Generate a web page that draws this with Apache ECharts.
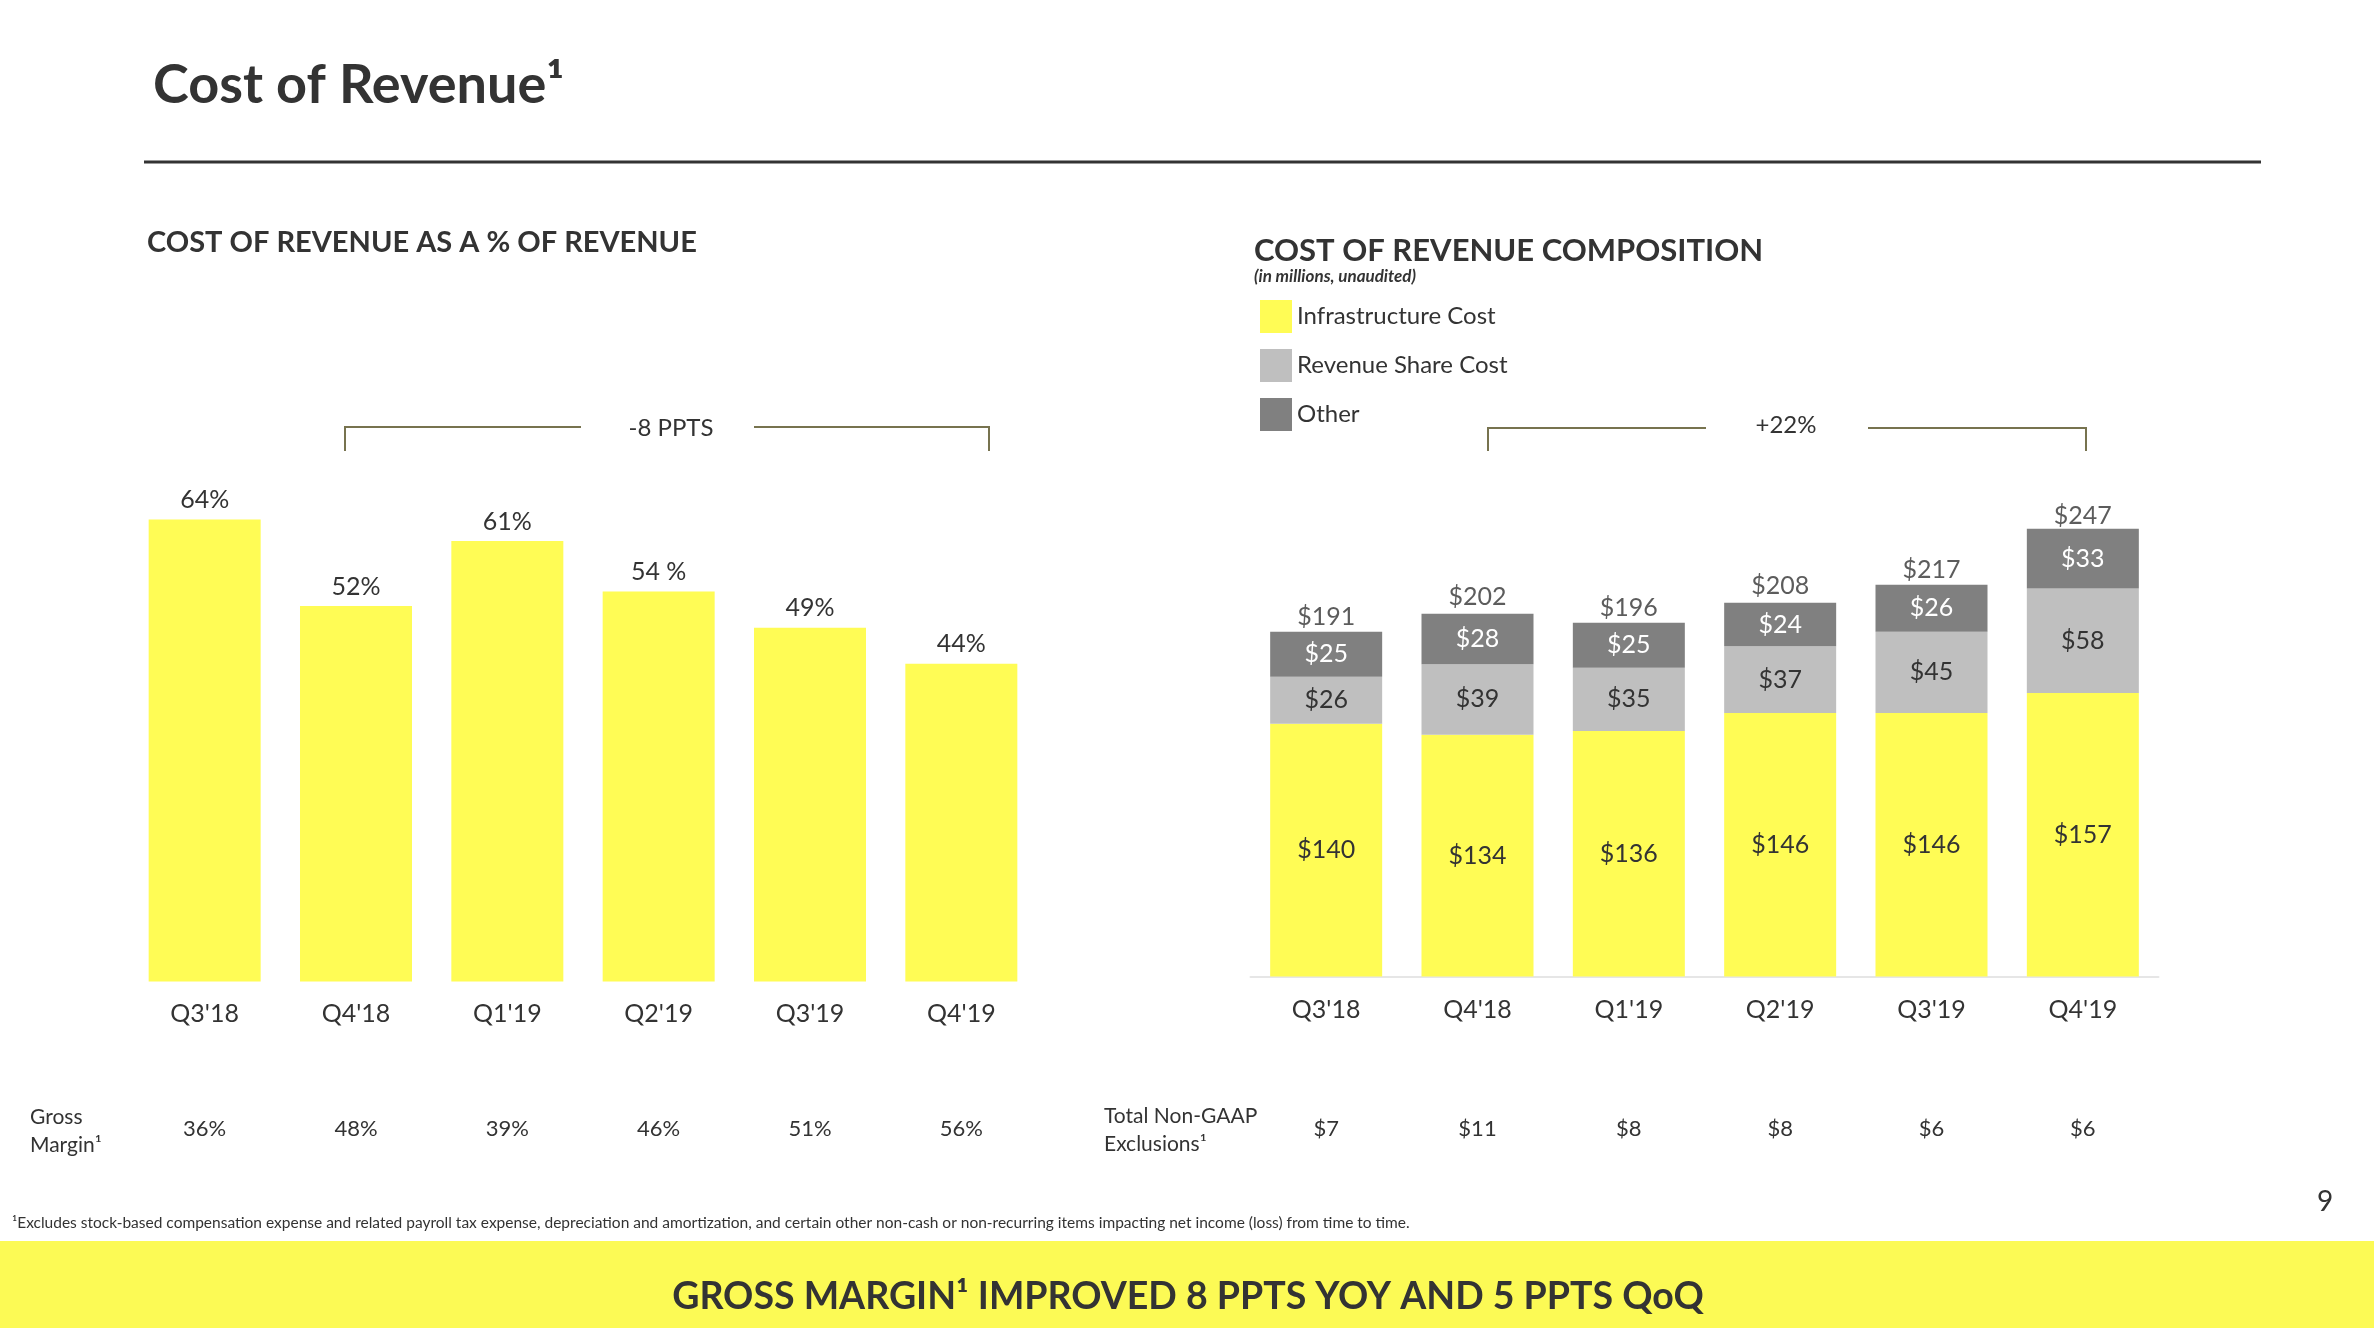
<!DOCTYPE html>
<html>
<head>
<meta charset="utf-8">
<title>Cost of Revenue</title>
<script src="https://cdn.jsdelivr.net/npm/echarts@6.0.0/dist/echarts.min.js"></script>
<style>
  html, body { margin: 0; padding: 0; background: #fff; }
  #main { width: 2374px; height: 1328px; }
</style>
</head>
<body>
<div id="main"></div>
<script>
var quarters = ["Q3'18", "Q4'18", "Q1'19", "Q2'19", "Q3'19", "Q4'19"];
// cost of revenue as % of revenue
var costPct = [64, 52, 61, 54, 49, 44];
var costPctLabels = ['64%', '52%', '61%', '54 %', '49%', '44%'];
var grossMargin = ['36%', '48%', '39%', '46%', '51%', '56%'];
// composition, $ millions
var infraCost = [140, 134, 136, 146, 146, 157];
var revShareCost = [26, 39, 35, 37, 45, 58];
var otherCost = [25, 28, 25, 24, 26, 33];
var totalCost = [191, 202, 196, 208, 217, 247];
var nonGaapExcl = ['$7', '$11', '$8', '$8', '$6', '$6'];

var FONT = 'Lato, "Noto Sans", sans-serif';
var TXT = '#333333';
var YELLOW = '#FFFC55';
var BRACKET = '#77734f';

function money(p) { return '$' + p.value; }

var chart = echarts.init(document.getElementById('main'));

var option = {
  backgroundColor: '#ffffff',
  textStyle: { fontFamily: FONT, color: TXT },
  animation: false,
  legend: {
    orient: 'vertical',
    left: 1255,
    top: 295,
    itemWidth: 32,
    itemHeight: 33,
    itemGap: 16,
    icon: 'rect',
    selectedMode: false,
    data: ['Infrastructure Cost', 'Revenue Share Cost', 'Other'],
    textStyle: { fontFamily: FONT, fontSize: 24, color: TXT }
  },
  grid: [
    { left: 129, width: 908, top: 259.5, bottom: 346.5 },
    { left: 1250.5, width: 908, top: 435, bottom: 351.5 }
  ],
  xAxis: [
    {
      gridIndex: 0, type: 'category', data: quarters,
      axisLine: { show: false }, axisTick: { show: false },
      axisLabel: { margin: 20, fontSize: 25, color: TXT, fontFamily: FONT }
    },
    {
      gridIndex: 0, type: 'category', data: quarters, position: 'bottom', offset: 116,
      axisLine: { show: false }, axisTick: { show: false },
      axisLabel: {
        margin: 20, fontSize: 22, color: TXT, fontFamily: FONT,
        formatter: function (v, i) { return grossMargin[i]; }
      }
    },
    {
      gridIndex: 1, type: 'category', data: quarters,
      axisLine: { show: true, lineStyle: { color: '#e6e6e6', width: 2 } }, axisTick: { show: false },
      axisLabel: { margin: 21, fontSize: 25, color: TXT, fontFamily: FONT }
    },
    {
      gridIndex: 1, type: 'category', data: quarters, position: 'bottom', offset: 121,
      axisLine: { show: false }, axisTick: { show: false },
      axisLabel: {
        margin: 20, fontSize: 22, color: TXT, fontFamily: FONT,
        formatter: function (v, i) { return nonGaapExcl[i]; }
      }
    }
  ],
  yAxis: [
    { gridIndex: 0, type: 'value', min: 0, max: 100, show: false },
    { gridIndex: 1, type: 'value', min: 0, max: 300, show: false }
  ],
  series: [
    {
      name: 'Cost % of Revenue', type: 'bar', xAxisIndex: 0, yAxisIndex: 0,
      data: costPct, barWidth: 112,
      itemStyle: { color: YELLOW },
      label: {
        show: true, position: 'top', distance: 7, fontSize: 25, color: TXT, fontFamily: FONT,
        formatter: function (p) { return costPctLabels[p.dataIndex]; }
      }
    },
    {
      name: 'Infrastructure Cost', type: 'bar', xAxisIndex: 2, yAxisIndex: 1, stack: 'cost',
      data: infraCost, barWidth: 112,
      itemStyle: { color: YELLOW },
      label: { show: true, position: 'inside', fontSize: 25, color: TXT, fontFamily: FONT, formatter: money }
    },
    {
      name: 'Revenue Share Cost', type: 'bar', xAxisIndex: 2, yAxisIndex: 1, stack: 'cost',
      data: revShareCost, barWidth: 112,
      itemStyle: { color: '#bfbfbf' },
      label: { show: true, position: 'inside', fontSize: 25, color: TXT, fontFamily: FONT, formatter: money }
    },
    {
      name: 'Other', type: 'bar', xAxisIndex: 2, yAxisIndex: 1, stack: 'cost',
      data: otherCost, barWidth: 112,
      itemStyle: { color: '#808080' },
      label: { show: true, position: 'inside', fontSize: 25, color: '#ffffff', fontFamily: FONT, formatter: money }
    },
    {
      name: 'Total', type: 'scatter', xAxisIndex: 2, yAxisIndex: 1,
      data: totalCost, symbolSize: 1, silent: true,
      itemStyle: { color: 'rgba(0,0,0,0)' },
      label: { show: true, position: 'top', distance: 2, fontSize: 25, color: TXT, fontFamily: FONT, formatter: money }
    }
  ],
  graphic: [
    {
      type: 'text', left: 153, top: 59,
      style: { text: 'Cost of Revenue\u00b9', font: 'bold 54px ' + FONT, fill: TXT }
    },
    {
      type: 'line', shape: { x1: 144, y1: 162, x2: 2261, y2: 162 },
      style: { stroke: '#333333', lineWidth: 3 }
    },
    {
      type: 'text', x: 147, y: 243,
      style: { text: 'COST OF REVENUE AS A % OF REVENUE', font: 'bold 29px ' + FONT, fill: TXT, verticalAlign: 'middle' }
    },
    {
      type: 'text', x: 1254, y: 251,
      style: { text: 'COST OF REVENUE COMPOSITION', font: 'bold 31px ' + FONT, fill: TXT, verticalAlign: 'middle' }
    },
    {
      type: 'text', x: 1254, y: 277,
      style: { text: '(in millions, unaudited)', font: 'italic bold 17px ' + FONT, fill: TXT, verticalAlign: 'middle' }
    },
    // -8 PPTS bracket
    {
      type: 'polyline', shape: { points: [[345, 451], [345, 427], [581, 427]] },
      style: { stroke: BRACKET, lineWidth: 2, fill: null }
    },
    {
      type: 'polyline', shape: { points: [[754, 427], [989, 427], [989, 451]] },
      style: { stroke: BRACKET, lineWidth: 2, fill: null }
    },
    {
      type: 'text', x: 671, y: 428,
      style: { text: '-8 PPTS', font: '24px ' + FONT, fill: TXT, align: 'center', verticalAlign: 'middle' }
    },
    // +22% bracket
    {
      type: 'polyline', shape: { points: [[1488, 451], [1488, 428], [1706, 428]] },
      style: { stroke: BRACKET, lineWidth: 2, fill: null }
    },
    {
      type: 'polyline', shape: { points: [[1868, 428], [2086, 428], [2086, 451]] },
      style: { stroke: BRACKET, lineWidth: 2, fill: null }
    },
    {
      type: 'text', x: 1786, y: 425,
      style: { text: '+22%', font: '24px ' + FONT, fill: TXT, align: 'center', verticalAlign: 'middle' }
    },
    // table row headers
    {
      type: 'text', x: 30, y: 1131,
      style: { text: 'Gross\nMargin\u00b9', font: '21px ' + FONT, lineHeight: 28, fill: TXT, verticalAlign: 'middle' }
    },
    {
      type: 'text', x: 1104, y: 1130,
      style: { text: 'Total Non-GAAP\nExclusions\u00b9', font: '21px ' + FONT, lineHeight: 28, fill: TXT, verticalAlign: 'middle' }
    },
    {
      type: 'text', x: 12, y: 1223,
      style: {
        text: '\u00b9Excludes stock-based compensation expense and related payroll tax expense, depreciation and amortization, and certain other non-cash or non-recurring items impacting net income (loss) from time to time.',
        font: '15.5px ' + FONT, fill: TXT, verticalAlign: 'middle'
      }
    },
    {
      type: 'text', x: 2325, y: 1202,
      style: { text: '9', font: '28px ' + FONT, fill: TXT, align: 'center', verticalAlign: 'middle' }
    },
    // bottom takeaway band
    {
      type: 'rect', shape: { x: 0, y: 1241, width: 2374, height: 87 },
      style: { fill: '#FCFA55' }
    },
    {
      type: 'text', x: 1188, y: 1297,
      style: {
        text: 'GROSS MARGIN\u00b9 IMPROVED 8 PPTS YOY AND 5 PPTS QoQ',
        font: 'bold 37.5px ' + FONT, fill: TXT, align: 'center', verticalAlign: 'middle'
      }
    }
  ]
};

chart.setOption(option);
</script>
</body>
</html>
